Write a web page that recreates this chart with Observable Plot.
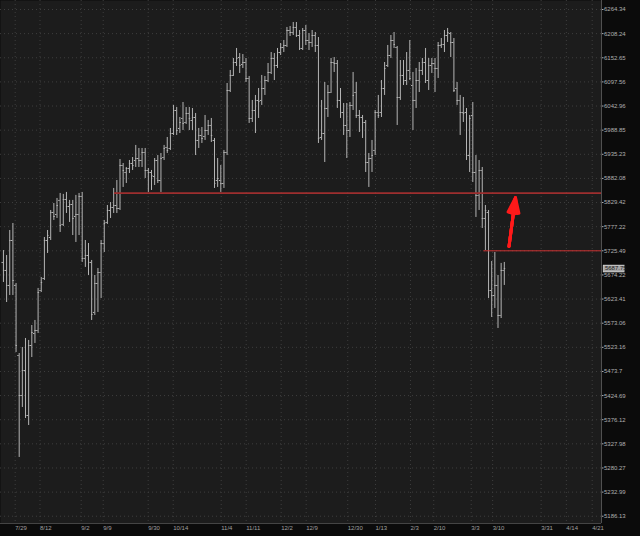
<!DOCTYPE html>
<html>
<head>
<meta charset="utf-8">
<script src="https://cdn.jsdelivr.net/npm/d3@7"></script>
<script src="https://cdn.jsdelivr.net/npm/@observablehq/plot@0.6"></script>
<style>
  html, body { margin: 0; padding: 0; background: #0b0b0b; }
  svg { display: block; }
</style>
</head>
<body>
<div id="chart"></div>
<script>
// ---- data (daily OHLC bars) ----
const dates = ["7/29","7/30","7/31",
"8/1","8/2","8/5","8/6","8/7","8/8","8/9","8/12","8/13","8/14","8/15","8/16","8/19","8/20","8/21","8/22","8/23","8/26","8/27","8/28","8/29","8/30",
"9/3","9/4","9/5","9/6","9/9","9/10","9/11","9/12","9/13","9/16","9/17","9/18","9/19","9/20","9/23","9/24","9/25","9/26","9/27","9/30",
"10/1","10/2","10/3","10/4","10/7","10/8","10/9","10/10","10/11","10/14","10/15","10/16","10/17","10/18","10/21","10/22","10/23","10/24","10/25","10/28","10/29","10/30","10/31",
"11/1","11/4","11/5","11/6","11/7","11/8","11/11","11/12","11/13","11/14","11/15","11/18","11/19","11/20","11/21","11/22","11/25","11/26","11/27","11/29",
"12/2","12/3","12/4","12/5","12/6","12/9","12/10","12/11","12/12","12/13","12/16","12/17","12/18","12/19","12/20","12/23","12/24","12/26","12/27","12/30","12/31",
"1/2","1/3","1/6","1/7","1/8","1/9","1/10","1/13","1/14","1/15","1/16","1/17","1/21","1/22","1/23","1/24","1/27","1/28","1/29","1/30","1/31",
"2/3","2/4","2/5","2/6","2/7","2/10","2/11","2/12","2/13","2/14","2/18","2/19","2/20","2/21","2/24","2/25","2/26","2/27","2/28",
"3/3","3/4","3/5","3/6","3/7","3/10","3/11","3/12","3/13","3/14","3/17"];

const open = [5700.7,5683.7,5652.0,5747.5,5652.0,5506.3,5424.8,5475.6,5384.6,5526.9,5551.7,5557.9,5641.4,5666.7,5747.5,5754.0,5807.9,5803.5,5834.0,5782.0,
5836.1,5820.8,5825.2,5799.2,5803.5,5842.7,5709.2,5715.5,5700.7,5595.4,5656.2,5679.4,5741.1,5786.3,5812.2,5818.7,5823.0,5816.5,5910.5,5895.1,
5903.9,5914.9,5921.5,5925.9,5921.5,5939.2,5899.5,5895.1,5886.3,5921.5,5877.5,5928.1,5950.3,5948.1,5981.4,6032.9,5992.6,6015.0,6006.0,6026.2,
6010.5,6017.2,5965.9,5977.0,5974.7,5988.1,5999.3,5965.9,5877.5,5877.5,5871.0,5939.2,6078.1,6112.2,6141.8,6153.2,6137.3,6141.8,6105.3,6015.0,
6032.9,6055.5,6055.5,6082.6,6100.7,6119.0,6151.0,6135.0,6164.7,6176.3,6180.9,6215.5,6210.9,6222.5,6203.9,6174.0,6215.5,6192.4,6187.8,6203.9,
6180.9,5972.5,5981.4,6037.4,6073.5,6141.8,6139.5,6055.5,6028.4,5999.3,5988.1,6044.2,6073.5,6021.7,6017.2,6006.0,5917.1,5925.9,5943.7,6028.4,
6028.4,6082.6,6135.0,6157.8,6192.4,6176.3,6062.2,6112.2,6100.7,6123.6,6089.4,6055.5,6100.7,6123.6,6141.8,6100.7,6135.0,6139.5,6128.1,6180.9,
6183.2,6203.9,6208.5,6187.8,6082.6,6055.5,6028.4,6028.4,5932.5,6021.7,5895.1,5844.9,5899.5,5794.9,5807.9,5641.4,5630.9,5652.0,5589.1,5683.7];

const high = [5726.1,5715.5,5769.0,5784.1,5656.2,5510.4,5522.8,5541.4,5537.3,5568.3,5578.7,5645.7,5668.8,5754.0,5769.0,5812.2,5827.3,5838.3,5849.2,5847.1,
5851.4,5834.0,5834.0,5844.9,5849.2,5851.4,5747.5,5741.1,5704.9,5673.0,5687.9,5747.5,5790.6,5823.0,5829.4,5860.1,5877.5,5923.7,5914.9,5906.1,
5921.5,5928.1,5954.8,5948.1,5948.1,5948.1,5903.9,5899.5,5925.9,5932.5,5937.0,5954.8,5972.5,5992.6,6044.2,6039.6,6017.2,6050.9,6039.6,6039.6,
6037.4,6026.2,5992.6,5994.8,6021.7,6010.5,6015.0,5970.3,5925.9,5910.5,5943.7,6093.9,6123.6,6151.0,6174.0,6162.4,6160.1,6151.0,6109.9,6055.5,
6066.8,6082.6,6112.2,6109.9,6139.5,6164.7,6162.4,6174.0,6185.5,6192.4,6222.5,6224.8,6234.1,6234.1,6215.5,6220.2,6227.1,6208.5,6215.5,6210.9,
6199.3,6055.5,6096.2,6089.4,6151.0,6153.2,6146.4,6082.6,6048.7,6048.7,6050.9,6119.0,6096.2,6032.9,6021.7,6010.5,5937.0,5965.9,6032.9,6066.8,
6100.7,6141.8,6180.9,6203.9,6210.9,6178.6,6146.4,6146.4,6164.7,6192.4,6119.0,6128.1,6141.8,6151.0,6174.0,6151.0,6151.0,6151.0,6187.8,6197.0,
6215.5,6220.2,6210.9,6197.0,6096.2,6066.8,6062.2,6037.4,6021.7,6050.9,5932.5,5921.5,5906.1,5823.0,5812.2,5702.8,5721.9,5673.0,5698.6,5700.7];

const low = [5658.3,5616.2,5630.9,5630.9,5512.5,5301.0,5400.7,5378.5,5364.5,5502.2,5531.1,5551.7,5637.2,5662.5,5719.8,5747.5,5790.6,5794.9,5764.7,5777.6,
5805.7,5786.3,5758.2,5743.3,5758.2,5700.7,5690.1,5673.0,5578.7,5589.1,5595.4,5624.6,5721.9,5782.0,5794.9,5805.7,5805.7,5812.2,5862.3,5871.0,
5892.9,5899.5,5906.1,5906.1,5906.1,5881.9,5851.4,5855.7,5866.6,5871.0,5851.4,5921.5,5937.0,5943.7,5977.0,5977.0,5981.4,5988.1,6001.6,5988.1,
5988.1,5932.5,5948.1,5959.2,5965.9,5977.0,5961.4,5860.1,5862.3,5851.4,5860.1,5932.5,6073.5,6109.9,6132.7,6116.7,6128.1,6096.2,6003.8,6006.0,
5981.4,6015.0,6044.2,6066.8,6096.2,6114.4,6100.7,6128.1,6157.8,6164.7,6176.3,6201.6,6203.9,6199.3,6169.3,6169.3,6180.9,6169.3,6176.3,6164.7,
5959.2,5965.9,5917.1,6017.2,6071.3,6119.0,6037.4,6015.0,5977.0,5925.9,5972.5,6032.9,6015.0,5983.6,5970.3,5895.1,5862.3,5895.1,5932.5,6015.0,
6017.2,6066.8,6130.4,6151.0,6174.0,5999.3,6055.5,6089.4,6089.4,6100.7,5988.1,6037.4,6073.5,6112.2,6093.9,6078.1,6116.7,6073.5,6105.3,6174.0,
6164.7,6187.8,6153.2,6073.5,6044.2,5977.0,6006.0,5921.5,5895.1,5873.2,5797.1,5812.2,5773.3,5726.1,5624.6,5584.9,5603.7,5562.1,5582.8,5652.0];

const close = [5683.7,5652.0,5747.5,5662.5,5526.9,5424.8,5475.6,5384.6,5526.9,5553.8,5557.9,5637.2,5658.3,5747.5,5758.2,5807.9,5799.2,5823.0,5779.8,5836.1,
5820.8,5825.2,5794.9,5803.5,5842.7,5709.2,5715.5,5700.7,5591.2,5656.2,5679.4,5741.1,5784.1,5812.2,5818.7,5823.0,5816.5,5910.5,5899.5,5903.9,
5914.9,5910.5,5925.9,5921.5,5939.2,5899.5,5895.1,5888.5,5921.5,5877.5,5925.9,5948.1,5943.7,5981.4,6032.9,5988.1,6006.0,6003.8,6026.2,6015.0,
6017.2,5965.9,5977.0,5970.3,5988.1,5999.3,5977.0,5871.0,5881.9,5871.0,5939.2,6078.1,6112.2,6141.8,6151.0,6135.0,6141.8,6105.3,6015.0,6032.9,
6055.5,6053.0,6082.6,6100.7,6119.0,6151.0,6135.0,6164.7,6176.3,6180.9,6215.5,6210.9,6222.5,6203.9,6174.0,6215.5,6192.4,6187.8,6203.9,6180.9,
5970.3,5981.4,6037.4,6073.5,6141.8,6139.5,6055.5,6028.4,5999.3,5988.1,6044.2,6066.8,6021.7,6017.2,6006.0,5917.1,5925.9,5932.5,6028.4,6021.7,
6082.6,6128.1,6157.8,6192.4,6183.2,6062.2,6112.2,6100.7,6123.6,6105.3,6055.5,6100.7,6123.6,6141.8,6100.7,6135.0,6139.5,6128.1,6180.9,6183.2,
6203.9,6210.9,6187.8,6078.1,6055.5,6028.4,6026.2,5932.5,6015.0,5895.1,5844.9,5899.5,5794.9,5812.2,5641.4,5630.9,5652.0,5589.1,5683.7,5687.75];

// price axis tick labels (log-spaced, as printed on the right axis)
const yTickValues = [6264.34,6208.24,6152.65,6097.56,6042.96,5988.85,5935.23,5882.08,5829.42,5777.22,5725.49,
5674.22,5623.41,5573.06,5523.16,5473.7,5424.69,5376.12,5327.98,5280.27,5232.99,5186.13];

// date axis labels and their positions in bar-index units
const xTickLabels = ["7/22","7/29","8/12","9/2","9/9","9/30","10/14","11/4","11/11","12/2","12/9","12/30","1/13","2/3","2/10","3/3","3/10","3/31","4/14","4/21"];
const xTickPos    = [-5.06, 3.73, 11.6, 24.68, 31.67, 45.95, 53.89, 69.13, 77.06, 88.17, 96.11, 109.3, 118.1, 129.2, 136.6, 148.5, 155.3, 170.7, 178.7, 186.9];

// annotations
const levels = [{price: 5850, from: 35.25, color: "#9e2e2e", width: 1.6}, {price: 5725.5, from: 152.5, color: "#cc3333", width: 1}];
const arrowFrom = {i: 160.5, price: 5735};
const arrowTo   = {i: 162.55, price: 5840};
const lastPrice = close[close.length - 1];

// ---- build ----
const bars = dates.map((d, i) => ({i, date: d, open: open[i], high: high[i], low: low[i], close: close[i]}));
const xTicks = xTickLabels.map((label, k) => ({label, pos: xTickPos[k]}));
const xDomain = [-0.9365, 189.857];
const yDomain = [5172.1, 6285.4];
const barColor = "#b4b4b4";
const gridColor = "#3e3e3e";

const plot = Plot.plot({
  width: 640,
  height: 536,
  marginTop: 0,
  marginRight: 39,
  marginBottom: 13,
  marginLeft: 0,
  style: {background: "#0b0b0b", color: "#a8a8a8", fontFamily: "'Liberation Sans', Arial, sans-serif", fontSize: "6px"},
  x: {type: "linear", domain: xDomain, axis: null},
  y: {type: "log", domain: yDomain, axis: null},
  marks: [
    Plot.frame({fill: "#1c1c1c", stroke: null}),
    Plot.ruleY(yTickValues, {stroke: gridColor, strokeDasharray: "1,3"}),
    Plot.ruleX(xTicks, {x: "pos", stroke: gridColor, strokeDasharray: "1,3"}),
    // OHLC bars
    Plot.ruleX(bars, {x: "i", y1: "low", y2: "high", stroke: barColor, strokeWidth: 1}),
    Plot.ruleY(bars, {y: "open", x1: d => d.i - 0.45, x2: "i", stroke: barColor, strokeWidth: 1}),
    Plot.ruleY(bars, {y: "close", x1: "i", x2: d => d.i + 0.45, stroke: barColor, strokeWidth: 1}),
    // horizontal levels
    Plot.ruleY(levels, {y: "price", x1: "from", x2: xDomain[1], stroke: "color", strokeWidth: "width"}),
    // red arrow (several wing angles to fill the head)
    ...[40, 28, 16, 6].map(a => Plot.arrow([0], {
      x1: () => arrowFrom.i, y1: () => arrowFrom.price,
      x2: () => arrowTo.i, y2: () => arrowTo.price,
      stroke: "#ff1a1a", strokeWidth: 3, headLength: 8, headAngle: a
    })),
    // borders of the plot area
    Plot.ruleX([xDomain[1]], {stroke: "#505050"}),
    Plot.ruleY([yDomain[0]], {stroke: "#444444"}),
    // right price axis
    Plot.axisY(yTickValues, {anchor: "right", tickSize: 1.5, tickPadding: 1, tickFormat: d => String(d), color: "#b0b0b0", fontSize: 6}),
    // last price box
    Plot.ruleY([lastPrice], {x1: 190.45, x2: 197.3, stroke: "#d8d8d8", strokeWidth: 7.5}),
    Plot.ruleY([lastPrice], {x1: 190.6, x2: 197.15, stroke: "#a6a6a6", strokeWidth: 6}),
    Plot.text([lastPrice], {x: 190.95, y: d => d, text: d => d.toFixed(2), textAnchor: "start", fill: "#1b1b1b", fontSize: 6}),
    // date labels
    Plot.text(xTicks, {x: "pos", frameAnchor: "bottom", text: "label", textAnchor: "start", dy: 6.7, fill: "#a0a0a0", fontSize: 6})
  ]
});
document.getElementById("chart").appendChild(plot);
</script>
</body>
</html>
